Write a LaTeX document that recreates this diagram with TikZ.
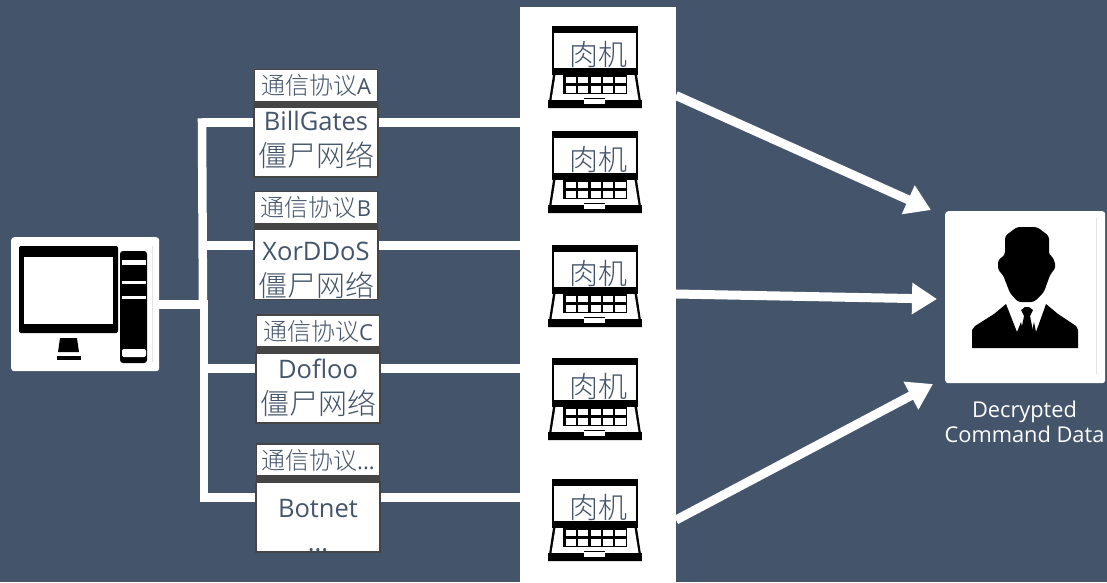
\documentclass[tikz,border=0pt]{standalone}
\usepackage{fontspec}
\setmainfont{Open Sans}
\newfontfamily\cjk[UprightFont={* Light}]{Noto Sans CJK SC}
\usetikzlibrary{arrows.meta}
\definecolor{slate}{HTML}{44546A}
\definecolor{edgegray}{HTML}{454545}
\definecolor{faint}{HTML}{E4E4E4}
\newcommand\tagtext[1]{\fontsize{22}{24}\selectfont{\fontsize{24}{24}\selectfont\cjk 通信协议}#1}
\newcommand\boxtext[3]{\parbox[c][70pt][t]{124pt}{\centering\fontsize{25.5}{36}\selectfont\rule{0pt}{#1pt}#2\par #3}}
\newcommand\zombie{{\fontsize{29}{36}\selectfont\cjk 僵尸网络}}
\tikzset{
  tagbox/.style={draw=edgegray,line width=1.6pt,fill=white,text=slate,minimum width=123pt,minimum height=32pt,inner sep=0pt},
  mainbox/.style={draw=edgegray,line width=1.6pt,fill=white,text=slate,minimum width=123pt,minimum height=69pt,inner sep=0pt},
  gapbar/.style={fill=edgegray,draw=none,minimum width=124pt,minimum height=6pt,inner sep=0pt},
  wire/.style={draw=white,line width=8.5pt},
  bigarrow/.style={draw=white,line width=9pt,-{Triangle[length=25pt,width=30pt]},shorten >=0pt},
  ink/.style={fill=black,draw=none},
  paper/.style={fill=white,draw=none},
  hostlabel/.style={text=slate,font=\fontsize{29}{29}\selectfont\cjk,inner sep=0pt},
  laptop/.pic={
    \fill[ink] (4,0) rectangle (90,7);
    \fill[ink] (4,7) rectangle (6,42);
    \fill[ink] (88,7) rectangle (90,42);
    \fill[ink] (4,42) rectangle (90,49);
    \fill[ink] (45,3.5) circle (1.3);
    \fill[ink] (5,49) -- (89,49) -- (94,82) -- (0,82) -- cycle;
    \fill[paper] (7.5,49) -- (86.5,49) -- (90.5,74) -- (3.5,74) -- cycle;
    \fill[ink] (15,49) rectangle (79,68);
    \foreach \kx/\kw in {18/10,30/10,43/10,55/10,67/11}{
      \fill[paper] (\kx,50.5) rectangle ++(\kw,6.5);
      \fill[paper] (\kx,60) rectangle ++(\kw,6.5);
    }
    \fill[paper] (36,72) rectangle (57,78);
    \draw[black,line width=1pt] (36,72) -- (57,72);
    \fill[ink] (0,74) rectangle (36,82);
    \fill[ink] (57,74) rectangle (94,82);
  }
}
\begin{document}
\begin{tikzpicture}[x=1pt,y=-1pt]
\useasboundingbox (0,0) rectangle (1107,582);
\fill[slate] (0,0) rectangle (1107,582);

% panel of hosts
\node[fill=white,draw=none,minimum width=156pt,minimum height=575pt,inner sep=0pt,anchor=north west] (panel) at (520,7) {};
\foreach \ly in {26,131,245,358,479}{
  \pic at (548,\ly) {laptop};
}
\node[hostlabel] (h1) at (598,54.5) {肉机};
\node[hostlabel] (h2) at (598,159) {肉机};
\node[hostlabel] (h3) at (598,273) {肉机};
\node[hostlabel] (h4) at (598,386) {肉机};
\node[hostlabel] (h5) at (598,507) {肉机};

% computer
\node[fill=white,rounded corners=3pt,minimum width=148pt,minimum height=134pt,inner sep=0pt,anchor=north west] (pc) at (11,237) {};
\fill[ink,rounded corners=2pt] (19,246) rectangle (118,333);
\fill[paper] (24,257) rectangle (113,324);
\fill[ink] (60,338) -- (77,338) -- (79,352) -- (58,352) -- cycle;
\fill[ink] (57,356) rectangle (81,360);
\fill[ink,rounded corners=3pt] (120,251) rectangle (147,363);
\fill[paper] (122,260) rectangle (146,265);
\fill[paper] (122,281) rectangle (146,283.5);
\fill[paper] (122,296) rectangle (146,298.5);
\fill[paper,rounded corners=2pt] (122,349) rectangle (146,357);
\draw[faint,line width=.6pt] (152,246) -- (152,362);

% boxes
\node[gapbar] (gapA) at (316,104.5) {};
\node[gapbar] (gapB) at (316,226.5) {};
\node[gapbar] (gapC) at (318,350.5) {};
\node[gapbar] (gapD) at (318,479.5) {};
\node[tagbox] (tagA) at (316,85.5) {\tagtext{A}};
\node[mainbox] (boxA) at (316,142) {\boxtext{23}{BillGates}{\zombie}};
\node[tagbox] (tagB) at (316,207.5) {\tagtext{B}};
\node[mainbox] (boxB) at (316,264.5) {\boxtext{31}{XorDDoS}{\zombie}};
\node[tagbox] (tagC) at (318,331) {\tagtext{C}};
\node[mainbox] (boxC) at (318,388) {\boxtext{25}{Dofloo}{\zombie}};
\node[tagbox] (tagD) at (318,460) {\tagtext{...}};
\node[mainbox] (boxD) at (318,517) {\boxtext{35}{Botnet}{\vspace{-2pt}...}};

% wires
\coordinate (ja) at (202,122.5);
\coordinate (jb) at (203,245.5);
\coordinate (jm) at (203,304.5);
\coordinate (jc) at (204,368.5);
\coordinate (jd) at (204,497.5);
\draw[wire] (pc.east |- jm) -- (jm);
\draw[wire,line cap=rect] (ja) -- (jm);
\draw[wire,line cap=rect] (jm -| jd) -- (jd);
\draw[wire] (ja) -- (boxA.west |- ja);
\draw[wire] (jb) -- (boxB.west |- jb);
\draw[wire] (jc) -- (boxC.west |- jc);
\draw[wire] (jd) -- (boxD.west |- jd);
\draw[wire] (boxA.east |- ja) -- (panel.west |- ja);
\draw[wire] (boxB.east |- jb) -- (panel.west |- jb);
\draw[wire] (boxC.east |- jc) -- (panel.west |- jc);
\draw[wire] (boxD.east |- jd) -- (panel.west |- jd);

% person
\node[fill=white,rounded corners=3pt,minimum width=160pt,minimum height=172pt,inner sep=0pt,anchor=north west] (user) at (945,211) {};
\draw[faint,line width=.6pt] (1096,218) -- (1096,374);
\fill[ink,rounded corners=3pt] (1017,227) -- (1037,227) -- (1049,236) -- (1049,255) -- (1053,257) -- (1056,267)
  -- (1050,275) -- (1044,292) -- (1034,302) -- (1018,302) -- (1010,293) -- (1003,275)
  -- (998,270) -- (998,260) -- (1005,255) -- (1005,236) -- cycle;
\fill[ink] (1006,304) -- (1017,332) -- (1021,322) -- (1023,331) -- (1032,331) -- (1034,322) -- (1036,332) -- (1046,304)
  -- (1058,314) -- (1076,326) -- (1078,330) -- (1078,348) -- (972,348) -- (972,330) -- (975,326) -- (994,314) -- cycle;
\fill[ink] (1021,310) -- (1025,307) -- (1029,307) -- (1033,310) -- (1030,316) -- (1033,331) -- (1021,331) -- (1024,316) -- cycle;
\node[text=white,align=center,inner sep=0pt,font=\fontsize{21.8}{24.5}\selectfont] (caption) at (1024.5,422) {Decrypted\\Command Data};

% arrows
\coordinate (a1) at (676,95.5);
\coordinate (a2) at (676,294);
\coordinate (a3) at (676,520);
\coordinate (t1) at (931,210);
\coordinate (t2) at (937,299);
\coordinate (t3) at (933,384);
\draw[bigarrow] (a1) -- (t1);
\draw[bigarrow] (a2) -- (t2);
\draw[bigarrow] (a3) -- (t3);
\end{tikzpicture}
\end{document}
